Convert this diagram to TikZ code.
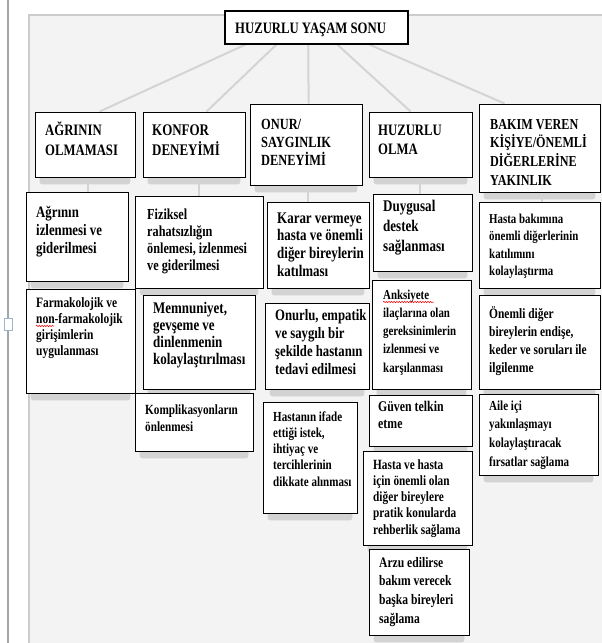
\documentclass[tikz,border=0pt]{standalone}
\usepackage{fontspec}
\setmainfont{Liberation Serif}[FakeStretch=0.8]
\usetikzlibrary{fit,decorations.pathmorphing}
\definecolor{panelc}{HTML}{F3F3F3}
\definecolor{leftc}{HTML}{A2A7AC}
\definecolor{sqc}{HTML}{9FB3CB}
\definecolor{connc}{HTML}{D4D4D4}
\definecolor{shadc}{HTML}{D3D3D3}
\newcommand\tightsp{\spaceskip=0.2em plus 0.05em\relax}
\pgfdeclarelayer{bg}
\pgfdeclarelayer{shad}
\pgfsetlayers{bg,shad,main}
\tikzset{
  box/.style={draw=black, line width=0.9pt, fill=white, inner sep=0pt},
  txt/.style 2 args={anchor=base west, inner sep=0pt, text width=230pt, align=left,
     font=\fontsize{#1}{#2}\selectfont\bfseries, execute at begin node=\tightsp},
  conn/.style={draw=connc, line width=2pt},
  shadowfill/.style={fill=shadc, rounded corners=3pt},
  squig/.style={draw=red, line width=0.5pt, decorate, decoration={snake, amplitude=0.7pt, segment length=2.6pt}}
}
\newcommand\shadowof[1]{%
  \begin{pgfonlayer}{shad}
    \fill[shadowfill] ([xshift=5pt,yshift=3pt]#1.south west) rectangle ([xshift=-5pt,yshift=-7pt]#1.south east);
  \end{pgfonlayer}}
\begin{document}
\begin{tikzpicture}[x=1pt,y=-1pt]
\useasboundingbox (0,0) rectangle (602,643);
\begin{pgfonlayer}{bg}
  \fill[white] (0,0) rectangle (602,643);
  \fill[panelc] (29,15) rectangle (602,643);
  \draw[black!20, line width=1.2pt] (29,643) -- (29,15) -- (602,15);
  \draw[leftc, line width=2.2pt] (8,0) -- (8,643);
  \draw[sqc, fill=white, line width=0.8pt] (4,318) rectangle (12,330);
\end{pgfonlayer}

% top
\node[box, line width=1.2pt, fit={(225,11) (408,44)}] (top) {};
\node[txt={15.9}{18}] (top-t) at (235,33) {HUZURLU YAŞAM SONU};

% level 1
\node[box, fit={(35,112) (135,177)}] (a1) {};
\node[txt={15.9}{20}] (a1-t) at (45,135) {AĞRININ\\OLMAMASI};
\node[box, fit={(143,112) (245,177)}] (a2) {};
\node[txt={16.2}{20}] (a2-t) at (152,135) {KONFOR\\DENEYİMİ};
\node[box, fit={(250,104) (362,185)}] (a3) {};
\node[txt={15.5}{18}] (a3-t) at (261,129) {ONUR/\\SAYGINLIK\\DENEYİMİ};
\node[box, fit={(369,112) (472,177)}] (a4) {};
\node[txt={15.9}{19.5}] (a4-t) at (378,135) {HUZURLU\\OLMA};
\node[box, fit={(479,104) (600,192)}] (a5) {};
\node[txt={15.2}{18.7}] (a5-t) at (490,129) {BAKIM VEREN\\KİŞİYE/ÖNEMLİ\\DİĞERLERİNE\\YAKINLIK};

% column 1
\node[box, fit={(26,192) (128,281)}] (b11) {};
\node[txt={16}{18}] (b11-t) at (36,217) {Ağrının\\izlenmesi ve\\giderilmesi};
\node[box, fit={(26,289) (135,393)}] (b12) {};
\node[txt={14.3}{16}] (b12-t) at (36,307) {Farmakolojik ve\\non-farmakolojik\\girişimlerin\\uygulanması};

% column 2
\node[box, fit={(135,196) (263,288)}] (b21) {};
\node[txt={15.3}{17}] (b21-t) at (147,219) {Fiziksel\\rahatsızlığın\\önlemesi, izlenmesi\\ve giderilmesi};
\node[box, fit={(143,295) (255,389)}] (b22) {};
\node[txt={16.2}{17}] (b22-t) at (153,313) {Memnuniyet,\\gevşeme ve\\dinlenmenin\\kolaylaştırılması};
\node[box, fit={(135,393) (253,451)}] (b23) {};
\node[txt={14}{17}] (b23-t) at (145,414) {Komplikasyonların\\önlenmesi};

% column 3
\node[box, fit={(267,202) (369,288)}] (b31) {};
\node[txt={16.2}{17.7}] (b31-t) at (277,223) {Karar vermeye\\hasta ve önemli\\diğer bireylerin\\katılması};
\node[box, fit={(265,303) (369,389)}] (b32) {};
\node[txt={15.9}{18.3}] (b32-t) at (275,320) {Onurlu, empatik\\ve saygılı bir\\şekilde hastanın\\tedavi edilmesi};
\node[box, fit={(263,402) (357,513)}] (b33) {};
\node[txt={13.8}{16.3}] (b33-t) at (273,421) {Hastanın ifade\\ettiği istek,\\ihtiyaç ve\\tercihlerinin\\dikkate alınması};

% column 4
\node[box, fit={(373,194) (472,271)}] (b41) {};
\node[txt={16.3}{20}] (b41-t) at (383,211) {Duygusal\\destek\\sağlanması};
\node[box, fit={(372,280) (471,389)}] (b42) {};
\node[txt={13.6}{18.3}] (b42-t) at (383,299) {Anksiyete\\ilaçlarına olan\\gereksinimlerin\\izlenmesi ve\\karşılanması};
\node[box, fit={(369,395) (472,446)}] (b43) {};
\node[txt={14.8}{17}] (b43-t) at (378,411) {Güven telkin\\etme};
\node[box, fit={(363,451) (472,545)}] (b44) {};
\node[txt={14.1}{16.3}] (b44-t) at (373,469) {Hasta ve hasta\\için önemli olan\\diğer bireylere\\pratik konularda\\rehberlik sağlama};
\node[box, fit={(369,549) (469,635)}] (b45) {};
\node[txt={14.5}{18.7}] (b45-t) at (379,567) {Arzu edilirse\\bakım verecek\\başka bireyleri\\sağlama};

% column 5
\node[box, fit={(479,202) (600,288)}] (b51) {};
\node[txt={13.6}{17.5}] (b51-t) at (489,223) {Hasta bakımına\\önemli diğerlerinin\\katılımını\\kolaylaştırma};
\node[box, fit={(479,295) (600,389)}] (b52) {};
\node[txt={14.3}{18}] (b52-t) at (489,318) {Önemli diğer\\bireylerin endişe,\\keder ve soruları ile\\ilgilenme};
\node[box, fit={(479,394) (598,475)}] (b53) {};
\node[txt={13.8}{18.7}] (b53-t) at (489,410) {Aile içi\\yakınlaşmayı\\kolaylaştıracak\\fırsatlar sağlama};

% shadows
\foreach \n in {a1,a2,a3,a4,a5,b11,b12,b21,b22,b23,b31,b32,b33,b41,b42,b43,b44,b45,b51,b52,b53}{\shadowof{\n}}

% connectors
\begin{pgfonlayer}{shad}
  \draw[conn] ([xshift=21pt]top.south west) -- ([xshift=65pt]a1.north west);
  \draw[conn] ([xshift=52pt]top.south west) -- ([xshift=64pt]a2.north west);
  \draw[conn] ([xshift=84pt]top.south west) -- ([xshift=59pt]a3.north west);
  \draw[conn] ([xshift=113pt]top.south west) -- ([xshift=42pt]a4.north west);
  \draw[conn] ([xshift=145pt]top.south west) -- ([xshift=26pt]a5.north west);
  \draw[conn] ([xshift=53pt]a1.south west) -- ([xshift=62pt]b11.north west);
  \draw[conn] ([xshift=56pt]a2.south west) -- ([xshift=64pt]b21.north west);
  \draw[conn] ([xshift=58pt]a3.south west) -- ([xshift=41pt]b31.north west);
  \draw[conn] ([xshift=51pt]a4.south west) -- ([xshift=47pt]b41.north west);
  \draw[conn] ([xshift=63pt]a5.south west) -- ([xshift=63pt]b51.north west);
\end{pgfonlayer}

% spell-check marks
\draw[squig] (383,302) -- (434,302);
\draw[squig] (36,326) -- (54,326);
\end{tikzpicture}
\end{document}
